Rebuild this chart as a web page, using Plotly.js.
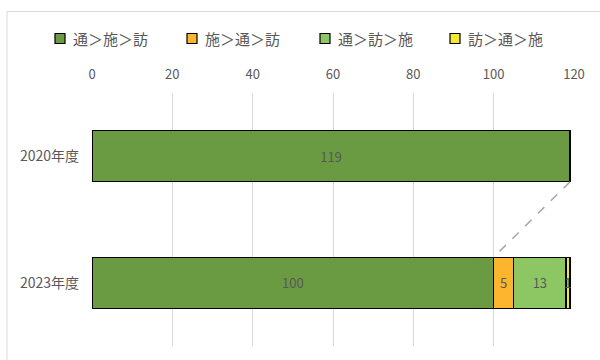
<!DOCTYPE html>
<html>
<head>
<meta charset="utf-8">
<script src="https://cdn.plot.ly/plotly-3.0.1.min.js"></script>
<style>
  html, body { margin: 0; padding: 0; background: #fff; }
  #chart { width: 600px; height: 360px; }
</style>
</head>
<body>
<div id="chart"></div>
<script>
// Fiscal years (top to bottom)
const years = ['2020年度', '2023年度'];

// Order-of-preference groups and their counts per year
const seriesNames = ['通＞施＞訪', '施＞通＞訪', '通＞訪＞施', '訪＞通＞施'];
const s1 = [119, 100];
const s2 = [0, 5];
const s3 = [0, 13];
const s4 = [0, 1];
const seriesValues = [s1, s2, s3, s4];
const seriesColors = ['#6A9A42', '#FDB42E', '#8DC763', '#F2E935'];

const FONT = '"Noto Sans CJK JP", "Noto Sans", sans-serif';
const TEXT = '#595959';
const GRID = '#D9D9D9';
const BAR_WIDTH = 0.405;

const W = 600, H = 360;
const M = { l: 92, r: 26, t: 93, b: 14 };
// pixel -> paper coordinate helpers for the frame and legend
const px = x => (x - M.l) / (W - M.l - M.r);
const py = y => (H - M.b - y) / (H - M.t - M.b);

const traces = seriesValues.map((vals, i) => ({
  type: 'bar',
  orientation: 'h',
  name: seriesNames[i],
  y: years,
  x: vals,
  width: BAR_WIDTH,
  marker: { color: seriesColors[i], line: { color: '#000', width: 1.2 } },
  text: vals.map(v => (v > 0 ? String(v) : '')),
  textposition: 'inside',
  insidetextanchor: 'middle',
  constraintext: 'none',
  textfont: { family: FONT, size: 13, color: TEXT },
  hoverinfo: 'skip',
  showlegend: false
}));

// Series line joining the end of the first group between the two years
const shapes = [
  {
    type: 'line', xref: 'x', yref: 'y', layer: 'above',
    x0: s1[0], y0: 0 + BAR_WIDTH / 2,
    x1: s1[1], y1: 1 - BAR_WIDTH / 2,
    line: { color: '#A6A6A6', width: 1.5, dash: 'dash' }
  },
  // chart frame
  {
    type: 'rect', xref: 'paper', yref: 'paper', layer: 'below',
    x0: px(7), x1: px(640), y0: py(400), y1: py(11.5),
    line: { color: GRID, width: 1 }, fillcolor: 'rgba(0,0,0,0)'
  }
];

// Legend row: coloured square + label for each group
const legendX = [55, 187, 320, 450];
const legendY = 38.5;
const annotations = [];
seriesNames.forEach((name, i) => {
  shapes.push({
    type: 'rect', xref: 'paper', yref: 'paper', layer: 'above',
    x0: px(legendX[i]), x1: px(legendX[i] + 10),
    y0: py(legendY + 5), y1: py(legendY - 5),
    fillcolor: seriesColors[i], line: { color: '#000', width: 1.2 }
  });
  annotations.push({
    xref: 'paper', yref: 'paper',
    x: px(legendX[i] + 16), y: py(legendY),
    xanchor: 'left', yanchor: 'middle',
    text: name, showarrow: false,
    font: { family: FONT, size: 15, color: TEXT }
  });
});

const layout = {
  width: W, height: H,
  margin: M,
  paper_bgcolor: '#fff', plot_bgcolor: '#fff',
  font: { family: FONT, color: TEXT },
  barmode: 'stack',
  showlegend: false,
  xaxis: {
    side: 'top',
    range: [0, 120],
    dtick: 20,
    tick0: 0,
    showgrid: true, gridcolor: GRID, gridwidth: 1,
    zeroline: false, showline: false,
    ticks: '',
    ticklabelstandoff: 10,
    tickfont: { family: FONT, size: 13, color: TEXT },
    fixedrange: true
  },
  yaxis: {
    type: 'category',
    autorange: 'reversed',
    showgrid: false, zeroline: false, showline: false,
    ticks: '',
    ticklabelstandoff: 12,
    tickfont: { family: FONT, size: 14, color: TEXT },
    fixedrange: true
  },
  shapes: shapes,
  annotations: annotations
};

Plotly.newPlot('chart', traces, layout, { displayModeBar: false, staticPlot: true });
</script>
</body>
</html>
